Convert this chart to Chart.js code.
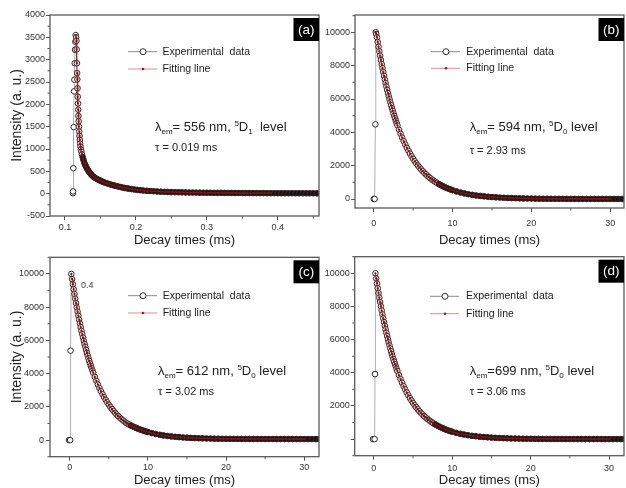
<!DOCTYPE html>
<html>
<head>
<meta charset="utf-8">
<script src="https://cdn.jsdelivr.net/npm/chart.js@4.4.1/dist/chart.umd.min.js"></script>
<style>
  html, body { margin: 0; padding: 0; background: #fff; overflow: hidden; width: 626px; height: 488px; }
  canvas { position: absolute; }
</style>
</head>
<body>
<canvas id="pa" width="324" height="250" style="left:0px;top:0px"></canvas>
<canvas id="pb" width="316" height="250" style="left:313px;top:0px"></canvas>
<canvas id="pc" width="324" height="244" style="left:0px;top:244px"></canvas>
<canvas id="pd" width="316" height="244" style="left:313px;top:244px"></canvas>
<script>
// ---- data ----
// (a) 556 nm, 5D1
const riseTimesA = [0.1113, 0.1115, 0.1119, 0.1124, 0.1129, 0.1134, 0.1139, 0.1143, 0.1147, 0.1152];
const riseA = [10, 50, 570, 1490, 2290, 2550, 2920, 3220, 3400, 3550];
const decayTimesA = [
  0.1158, 0.1162, 0.1166, 0.1169, 0.1172, 0.1175, 0.1178, 0.1181, 0.1184, 0.1187,
  0.1190, 0.1194, 0.1198, 0.1202, 0.1206, 0.1210, 0.1215, 0.1220, 0.1226, 0.1233,
  0.1240, 0.1250, 0.1260, 0.1270, 0.1280, 0.1290, 0.1300, 0.1315, 0.1330, 0.1345,
  0.1360, 0.1375, 0.1395, 0.1415, 0.1435, 0.1455, 0.1475, 0.1495, 0.1520, 0.1545,
  0.1570, 0.1600, 0.1630, 0.1660, 0.1690, 0.1720, 0.1750, 0.1780, 0.1810, 0.1840,
  0.1870, 0.1900, 0.1940, 0.1980, 0.2020, 0.2060, 0.2100, 0.2150, 0.2200, 0.2250,
  0.2300, 0.2350, 0.2400, 0.2450, 0.2500,
  0.255, 0.260, 0.265, 0.270, 0.275, 0.280, 0.285, 0.290, 0.295, 0.300,
  0.305, 0.310, 0.315, 0.320, 0.325, 0.330, 0.335, 0.340, 0.345, 0.350,
  0.355, 0.360, 0.365, 0.370, 0.375, 0.380, 0.385, 0.390, 0.395, 0.400,
  0.405, 0.410, 0.415, 0.420, 0.425, 0.430, 0.435, 0.440, 0.445, 0.450,
  0.455, 0.460
];
const decayA = [
  3500, 3420, 3230, 2920, 2700, 2560, 2360, 2170, 2020, 1880,
  1740, 1620, 1500, 1390, 1290, 1200, 1120, 1050, 990, 940,
  880, 820, 760, 710, 665, 630, 600, 555, 515, 480,
  450, 420, 390, 365, 345, 325, 310, 295, 275, 258,
  243, 228, 212, 198, 185, 172, 160, 149, 139, 129,
  120, 112, 102, 93, 85, 78, 72, 65, 59, 54,
  49, 45, 41, 38, 35,
  33, 31, 29, 28, 26, 25, 24, 23, 22, 21,
  20, 19, 18, 18, 17, 16, 16, 15, 15, 14,
  14, 13, 13, 12, 12, 12, 11, 11, 11, 10,
  10, 10, 9, 9, 9, 9, 8, 8, 8, 8,
  7, 7
];

// (b), (c), (d) share the same decay time base
const decayTimes = [
  0.3, 0.4, 0.5, 0.6, 0.7, 0.8, 0.9, 1.0, 1.1, 1.2, 1.3, 1.4, 1.5, 1.6,
  1.7, 1.8, 1.9, 2.0, 2.1, 2.2, 2.3, 2.4, 2.5, 2.6, 2.7, 2.8, 2.9, 3.0,
  3.2, 3.4, 3.6, 3.8, 4.0, 4.2, 4.4, 4.6, 4.8, 5.0, 5.2, 5.4, 5.6,
  5.8, 6.0, 6.2, 6.4, 6.6, 6.8, 7.0, 7.2, 7.4, 7.6, 7.8, 8.0,
  8.25, 8.5, 8.75, 9, 9.25, 9.5, 9.75, 10,
  10.5, 11, 11.5, 12, 12.5, 13, 13.5, 14, 14.5, 15, 15.5, 16, 16.5, 17, 17.5, 18,
  18.5, 19, 19.5, 20, 20.5, 21, 21.5, 22, 22.5, 23, 23.5, 24, 24.5, 25, 25.5, 26,
  26.5, 27, 27.5, 28, 28.5, 29, 29.5, 30, 30.5, 31, 31.5, 32
];

// (b) 594 nm
const riseTimesB = [0, 0.1, 0.2, 0.25];
const riseB = [0, 0, 4480, 10000];
const decayB = [
  9900, 9702, 9412, 9131, 8859, 8594, 8338, 8089, 7848, 7614, 7386, 7166, 6952, 6745,
  6543, 6348, 6159, 5975, 5797, 5624, 5456, 5293, 5135, 4982, 4833, 4689, 4549, 4413,
  4154, 3910, 3680, 3463, 3260, 3068, 2888, 2718, 2558, 2408, 2266, 2133, 2007,
  1889, 1778, 1674, 1575, 1483, 1395, 1313, 1236, 1163, 1095, 1031, 970,
  899, 833, 773, 716, 664, 616, 571, 529,
  455, 391, 336, 289, 248, 213, 183, 158, 135, 116, 100, 86, 74, 64, 55, 47,
  40, 35, 30, 26, 22, 19, 16, 14, 12, 10, 9, 8, 7, 6, 6, 5,
  5, 4, 4, 4, 3, 3, 3, 3, 2, 2, 2, 2
];

// (c) 612 nm
const riseTimesC = [-0.1, 0.05, 0.1, 0.2];
const riseC = [0, 0, 5380, 10000];
const decayC = [
  9683, 9376, 9078, 8790, 8511, 8241, 7979, 7726, 7481, 7243, 7013, 6791, 6575, 6366,
  6164, 5969, 5779, 5596, 5418, 5246, 5080, 4918, 4762, 4611, 4465, 4323, 4186, 4053,
  3800, 3562, 3340, 3131, 2935, 2752, 2580, 2419, 2268, 2126, 1993, 1869, 1752,
  1642, 1540, 1444, 1353, 1269, 1190, 1115, 1046, 990, 935, 882, 835,
  785, 732, 683, 637, 595, 555, 519, 485,
  420, 367, 321, 282, 249, 221, 197, 177, 159, 145, 132, 121, 112, 104, 98, 92,
  87, 83, 80, 77, 74, 72, 70, 69, 68, 67, 66, 65, 64, 64, 63, 63,
  63, 62, 62, 62, 62, 61, 61, 61, 61, 61, 61, 61
];

// (d) 699 nm
const riseTimesD = [-0.1, 0.1, 0.15, 0.2];
const riseD = [0, 0, 3920, 10000];
const decayD = [
  9688, 9385, 9092, 8808, 8532, 8266, 8007, 7757, 7515, 7280, 7053, 6832, 6619, 6412,
  6212, 6018, 5830, 5647, 5471, 5300, 5134, 4974, 4819, 4668, 4522, 4381, 4244, 4111,
  3858, 3621, 3398, 3189, 2993, 2809, 2636, 2474, 2322, 2179, 2045, 1919, 1801,
  1690, 1586, 1489, 1397, 1311, 1231, 1155, 1084, 1017, 955, 896, 841,
  777, 717, 663, 612, 565, 522, 482, 446,
  380, 324, 277, 236, 201, 172, 147, 125, 107, 91, 78, 66, 57, 48, 41, 35,
  30, 26, 22, 19, 16, 14, 12, 10, 9, 8, 7, 6, 5, 4, 4, 3,
  3, 3, 2, 2, 2, 2, 1, 1, 1, 1, 1, 1
];

// tick labels
const xTicksA = [0.1, 0.2, 0.3, 0.4];
const xLabelsA = ['0.1', '0.2', '0.3', '0.4'];
const yTicksA = [-500, 0, 500, 1000, 1500, 2000, 2500, 3000, 3500, 4000];
const yLabelsA = ['-500', '0', '500', '1000', '1500', '2000', '2500', '3000', '3500', '4000'];
const xTicksMs = [0, 10, 20, 30];
const xLabelsMs = ['0', '10', '20', '30'];
const yTicksI = [0, 2000, 4000, 6000, 8000, 10000];
const yLabelsI = ['0', '2000', '4000', '6000', '8000', '10000'];
const yLabelsD = ['', '2000', '4000', '6000', '8000', '10000'];

// ---- helpers ----
const family = '"Liberation Sans", Arial, sans-serif';

function pairs(ts, vs) {
  return ts.map(function(t, i) { return { x: t, y: vs[i] }; });
}
function expData(rt, rv, dt, dv) {
  return pairs(rt.concat(dt), rv.concat(dv));
}
// fit curve: from the peak through the decay, stopping at fitEnd
function fitData(rt, rv, dt, dv, fitEnd) {
  const n = rt.length - 1;
  return pairs([rt[n]].concat(dt), [rv[n]].concat(dv)).filter(function(p) { return p.x <= fitEnd; });
}

function richText(ctx, x, y, parts) {
  parts.forEach(function(p) {
    ctx.font = p[1] + 'px ' + family;
    ctx.fillText(p[0], x, y + (p[2] || 0));
    x += ctx.measureText(p[0]).width;
  });
}

function makeDecor(p) {
  return {
    id: 'decor',
    afterDraw(chart) {
      const ctx = chart.ctx, a = chart.chartArea;
      ctx.save();
      // minor ticks half way between the labelled ones
      ['x', 'y'].forEach(function(id) {
        const s = chart.scales[id];
        const t = s.ticks.map(function(k) { return k.value; });
        const step = t[1] - t[0];
        ctx.strokeStyle = '#555';
        ctx.lineWidth = 1;
        for (let v = t[0] - step / 2; v <= s.max + 1e-9; v += step) {
          if (v < s.min) continue;
          const px = s.getPixelForValue(v);
          ctx.beginPath();
          if (id === 'x') { ctx.moveTo(px, a.bottom); ctx.lineTo(px, a.bottom + 2.5); }
          else { ctx.moveTo(a.left, px); ctx.lineTo(a.left - 2.5, px); }
          ctx.stroke();
        }
      });
      // frame
      ctx.strokeStyle = '#5a5a5a';
      ctx.lineWidth = 1.3;
      ctx.strokeRect(a.left, a.top, a.right - a.left, a.bottom - a.top);

      // legend
      const L = p.legend;
      ctx.lineWidth = 1;
      ctx.strokeStyle = '#8a8a8a';
      ctx.beginPath(); ctx.moveTo(L.x0, L.y1); ctx.lineTo(L.x0 + 29, L.y1); ctx.stroke();
      ctx.beginPath(); ctx.arc(L.x0 + 15, L.y1, 3, 0, Math.PI * 2);
      ctx.fillStyle = '#fff'; ctx.fill();
      ctx.strokeStyle = '#333'; ctx.stroke();
      ctx.strokeStyle = '#e08a8a';
      ctx.beginPath(); ctx.moveTo(L.x0, L.y2); ctx.lineTo(L.x0 + 29, L.y2); ctx.stroke();
      ctx.beginPath(); ctx.arc(L.x0 + 15, L.y2, 1.3, 0, Math.PI * 2);
      ctx.fillStyle = '#a01818'; ctx.fill();
      ctx.fillStyle = '#222';
      ctx.textBaseline = 'middle';
      ctx.textAlign = 'left';
      ctx.font = '10.5px ' + family;
      ctx.fillText('Experimental  data', L.tx, L.y1);
      ctx.fillText('Fitting line', L.tx, L.y2);

      // annotation
      const N = p.note;
      ctx.textBaseline = 'alphabetic';
      richText(ctx, N.x, N.y1, N.parts);
      ctx.font = '11px ' + family;
      ctx.fillText(N.tau, N.x, N.y2);

      if (p.extra) {
        ctx.font = '9px ' + family;
        ctx.fillStyle = '#444';
        ctx.textBaseline = 'middle';
        ctx.fillText(p.extra.text, p.extra.x, p.extra.y);
      }

      // panel tag
      const bw = 25.5, bh = 23;
      ctx.fillStyle = '#000';
      ctx.fillRect(a.right - bw, a.top + 3, bw, bh);
      ctx.fillStyle = '#fff';
      ctx.font = '13.5px ' + family;
      ctx.textAlign = 'center';
      ctx.textBaseline = 'middle';
      ctx.fillText(p.tag, a.right - bw / 2, a.top + 3 + bh / 2 + 0.5);
      ctx.restore();
    }
  };
}

function makeChart(p) {
  // the decay tail is so dense in the original that it reads as a solid black band
  const inTail = function(c) {
    return c.p0.parsed.x > p.peakX && c.p0.parsed.y < p.darkBelow * 0.4 && c.p1.parsed.y < p.darkBelow * 0.4;
  };
  new Chart(document.getElementById(p.id), {
    type: 'scatter',
    data: {
      datasets: [
        {
          label: 'Fitting line',
          data: p.fit,
          showLine: true,
          borderColor: 'rgba(165,35,35,0.85)',
          borderWidth: 1,
          pointRadius: 1.1,
          pointBorderWidth: 0,
          pointBackgroundColor: '#7a1010',
          order: 0
        },
        {
          label: 'Experimental data',
          data: p.exp,
          showLine: true,
          borderColor: '#9a9a9a',
          borderWidth: 0.8,
          segment: {
            borderColor: function(c) { return inTail(c) ? '#120e0e' : '#9a9a9a'; },
            borderWidth: function(c) { return inTail(c) ? 5 : 0.8; }
          },
          pointRadius: 2.8,
          pointBorderWidth: 1,
          pointBorderColor: function(c) {
            return c.raw && c.raw.x > p.peakX ? '#3a2424' : '#2a2a2a';
          },
          pointBackgroundColor: function(c) {
            if (!c.raw || c.raw.x <= p.peakX) return '#fff';
            return c.raw.y < p.darkBelow ? '#1c1414' : '#f2e2e2';
          },
          order: 1
        }
      ]
    },
    options: {
      responsive: false,
      animation: false,
      devicePixelRatio: 1,
      layout: { padding: p.pad },
      plugins: { legend: { display: false }, tooltip: { enabled: false } },
      scales: {
        x: {
          type: 'linear',
          min: p.xMin, max: p.xMax,
          afterFit: function(s) { s.height = p.xH; },
          afterBuildTicks: function(s) { s.ticks = p.xTicks.map(function(v) { return { value: v }; }); },
          ticks: {
            callback: function(v, i) { return p.xLabels[i]; },
            font: { size: 9, family: family }, color: '#333',
            padding: p.xPad, autoSkip: false, maxRotation: 0
          },
          grid: { display: true, drawOnChartArea: false, drawTicks: true, tickLength: 4, tickColor: '#555' },
          border: { display: false },
          title: {
            display: true, text: 'Decay times (ms)', color: '#222',
            font: { size: 13, family: family },
            padding: { top: 0, bottom: p.xTitlePad }
          }
        },
        y: {
          type: 'linear',
          min: p.yMin, max: p.yMax,
          afterFit: function(s) { s.width = p.yW; },
          afterBuildTicks: function(s) { s.ticks = p.yTicks.map(function(v) { return { value: v }; }); },
          ticks: {
            callback: function(v, i) { return p.yLabels[i]; },
            font: { size: 9, family: family }, color: '#333',
            padding: p.yPad, autoSkip: false
          },
          grid: { display: true, drawOnChartArea: false, drawTicks: true, tickLength: 4, tickColor: '#555' },
          border: { display: false },
          title: {
            display: p.yTitle, text: 'Intensity (a. u.)', color: '#222',
            font: { size: 14, family: family },
            padding: { top: 8.7, bottom: 0 }
          }
        }
      }
    },
    plugins: [makeDecor(p)]
  });
}

makeChart({
  id: 'pa', tag: '(a)',
  exp: expData(riseTimesA, riseA, decayTimesA, decayA),
  fit: fitData(riseTimesA, riseA, decayTimesA, decayA, 0.39),
  peakX: riseTimesA[riseTimesA.length - 1], darkBelow: 850,
  xMin: 0.079, xMax: 0.458, yMin: -500, yMax: 4000,
  xTicks: xTicksA, xLabels: xLabelsA, yTicks: yTicksA, yLabels: yLabelsA,
  pad: { left: 0, top: 15, right: 2.3, bottom: 0 },
  yW: 50, xH: 34, xPad: 2, yPad: 1, xTitlePad: 2.2, yTitle: true,
  legend: { x0: 128, y1: 51.7, y2: 69, tx: 162.5 },
  note: {
    x: 155, y1: 131.3, y2: 150.6, tau: 'τ = 0.019 ms',
    parts: [['λ', 13], ['em', 8, 3], ['= 556 nm, ', 13], ['5', 8, -5], ['D', 13], ['1', 8, 3], ['  level', 13]]
  }
});

makeChart({
  id: 'pb', tag: '(b)',
  exp: expData(riseTimesB, riseB, decayTimes, decayB),
  fit: fitData(riseTimesB, riseB, decayTimes, decayB, 30),
  peakX: riseTimesB[riseTimesB.length - 1], darkBelow: 900,
  xMin: -2.39, xMax: 31.76, yMin: -540, yMax: 11040,
  xTicks: xTicksMs, xLabels: xLabelsMs, yTicks: yTicksI, yLabels: yLabelsI,
  pad: { left: 0, top: 15, right: 2.7, bottom: 0 },
  yW: 42, xH: 42, xPad: 6.6, yPad: 1, xTitlePad: 2.2, yTitle: false,
  legend: { x0: 118, y1: 51.7, y2: 68.3, tx: 153.3 },
  note: {
    x: 156.7, y1: 131.3, y2: 154, tau: 'τ = 2.93 ms',
    parts: [['λ', 13], ['em', 8, 3], ['= 594 nm, ', 13], ['5', 8, -5], ['D', 13], ['0', 8, 3], [' level', 13]]
  }
});

makeChart({
  id: 'pc', tag: '(c)',
  exp: expData(riseTimesC, riseC, decayTimes, decayC),
  fit: fitData(riseTimesC, riseC, decayTimes, decayC, 30),
  peakX: riseTimesC[riseTimesC.length - 1], darkBelow: 900,
  xMin: -2.53, xMax: 31.9, yMin: -1000, yMax: 11000,
  xTicks: xTicksMs, xLabels: xLabelsMs, yTicks: yTicksI, yLabels: yLabelsI,
  pad: { left: 0, top: 13.3, right: 2.3, bottom: 0 },
  yW: 50, xH: 31.3, xPad: 1.9, yPad: 2, xTitlePad: 0, yTitle: true,
  legend: { x0: 128, y1: 51.7, y2: 69, tx: 162.7 },
  note: {
    x: 158, y1: 130.7, y2: 150.6, tau: 'τ = 3.02 ms',
    parts: [['λ', 13], ['em', 8, 3], ['= 612 nm, ', 13], ['5', 8, -5], ['D', 13], ['0', 8, 3], [' level', 13]]
  },
  extra: { text: '0.4', x: 81, y: 41.7 }
});

makeChart({
  id: 'pd', tag: '(d)',
  exp: expData(riseTimesD, riseD, decayTimes, decayD),
  fit: fitData(riseTimesD, riseD, decayTimes, decayD, 30),
  peakX: riseTimesD[riseTimesD.length - 1], darkBelow: 900,
  xMin: -2.44, xMax: 31.9, yMin: -1000, yMax: 11000,
  xTicks: xTicksMs, xLabels: xLabelsMs, yTicks: yTicksI, yLabels: yLabelsD,
  pad: { left: 0, top: 12.7, right: 2.7, bottom: 0 },
  yW: 41.7, xH: 32.3, xPad: 3.2, yPad: 1, xTitlePad: 0, yTitle: false,
  legend: { x0: 117, y1: 52.3, y2: 69.7, tx: 153 },
  note: {
    x: 156.7, y1: 130.7, y2: 150.6, tau: 'τ = 3.06 ms',
    parts: [['λ', 13], ['em', 8, 3], ['=699 nm, ', 13], ['5', 8, -5], ['D', 13], ['0', 8, 3], [' level', 13]]
  }
});
</script>
</body>
</html>
